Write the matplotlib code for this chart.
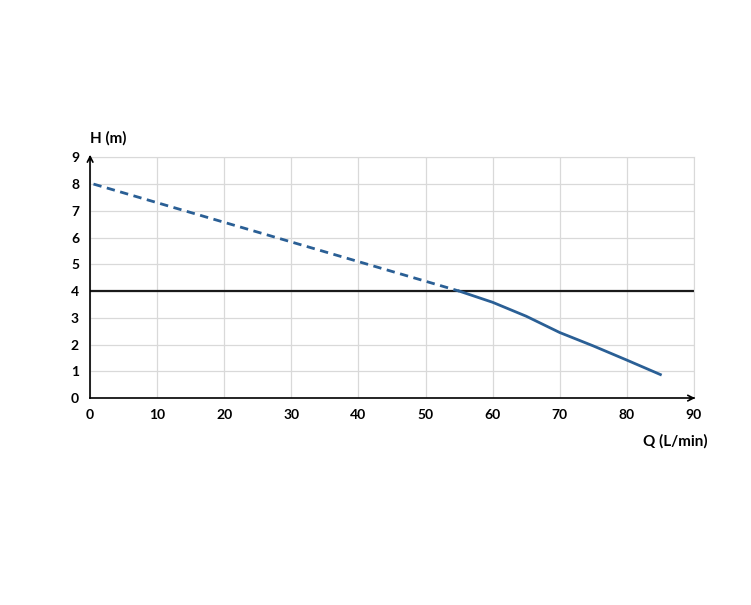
import matplotlib
matplotlib.use("Agg")
import matplotlib.pyplot as plt

dash_q = [0.5, 55]
dash_h = [8.0, 4.0]
solid_q = [55, 60, 65, 70, 75, 80, 85]
solid_h = [4.0, 3.58, 3.06, 2.45, 1.95, 1.42, 0.88]
ref_h = 4
xticks = list(range(0, 91, 10))
yticks = list(range(0, 10))

plt.rcParams['font.family'] = ['Lato', 'DejaVu Sans']
fig = plt.figure(figsize=(7.51, 6.05), dpi=100)
ax = fig.add_axes([0.12, 0.342, 0.804, 0.398])
ax.set_xlim(0, 90)
ax.set_ylim(0, 9)
ax.set_xticks(xticks)
ax.set_yticks(yticks)
ax.grid(True, color='#d9d9d9', lw=0.9)
for s in ['top', 'right']:
    ax.spines[s].set_color('#d9d9d9')
for s in ['left', 'bottom']:
    ax.spines[s].set_color('black')
    ax.spines[s].set_linewidth(1.2)
ax.tick_params(length=0, labelsize=10, pad=8)
for t in ax.get_xticklabels() + ax.get_yticklabels():
    t.set_fontweight('bold')
ax.axhline(ref_h, color='#1a1a1a', lw=1.6)
ax.plot(dash_q, dash_h, color='#2a5f95', lw=2, ls=(0, (3, 2)))
ax.plot(solid_q, solid_h, color='#2a5f95', lw=2)
ax.annotate('', xy=(90.6, 0), xytext=(89, 0), xycoords='data',
            arrowprops=dict(arrowstyle='->', color='black', lw=1.2), annotation_clip=False)
ax.annotate('', xy=(0, 9.2), xytext=(0, 8.8), xycoords='data',
            arrowprops=dict(arrowstyle='->', color='black', lw=1.2), annotation_clip=False)
fig.text(0.12, 0.765, 'H (m)', ha='left', fontsize=11, fontweight='bold')
fig.text(0.942, 0.263, 'Q (L/min)', ha='right', fontsize=11, fontweight='bold')
fig.savefig('out.png', dpi=100)
